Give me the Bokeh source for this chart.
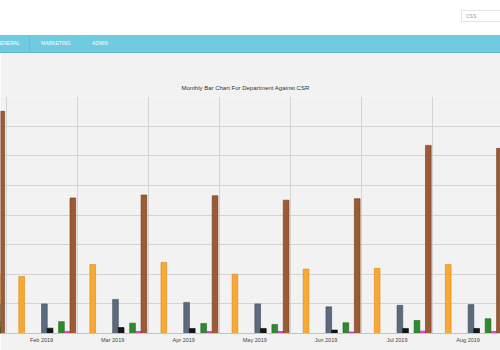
from bokeh.plotting import figure
from bokeh.layouts import column
from bokeh.models import (ColumnDataSource, Range1d, FixedTicker, Grid, Div)
from bokeh.transform import dodge
from bokeh.embed import file_html
from bokeh.resources import INLINE

# Monthly CSR counts per department
months = ["Jan 2019", "Feb 2019", "Mar 2019", "Apr 2019",
          "May 2019", "Jun 2019", "Jul 2019", "Aug 2019"]
departments = ["Corporate Services", "County Help Desk", "Court", "Development",
               "Field Rep Support", "Field Reps", "Hardware", "Marketing",
               "Municipal Help Desk", "Network Services", "Software Deployment",
               "Software Help Desk"]

corporate_services  = [0, 0, 0, 0, 0, 0, 0, 0]
county_help_desk    = [0, 0, 0, 0, 0, 0, 0, 0]
court               = [40, 38.5, 46.5, 48, 40, 43.5, 44, 46.5]
development         = [0, 0, 0, 0, 0, 0, 0, 0]
field_rep_support   = [0, 0, 0, 0, 0, 0, 0, 0]
field_reps          = [0, 0, 0, 0, 0, 0, 0, 0]
hardware            = [20, 20, 23, 21, 20, 18, 19, 19.5]
marketing           = [4, 3.6, 4, 3.4, 3.4, 2.3, 3.4, 3.4]
municipal_help_desk = [0, 0, 0, 0, 0, 0, 0, 0]
network_services    = [8, 8, 7, 6.8, 6, 7.2, 8.8, 10]
software_deployment = [1.5, 1.4, 1.3, 1.3, 1.3, 1, 1.6, 1.3]
software_help_desk  = [150, 91.5, 93.5, 93, 90, 91, 127, 125]

series = [corporate_services, county_help_desk, court, development,
          field_rep_support, field_reps, hardware, marketing,
          municipal_help_desk, network_services, software_deployment,
          software_help_desk]

colors = ["#8a8a8a", "#e3191c", "#f7a933", "#1a22d8", "#e2701a", "#b356d8",
          "#5b6b7c", "#161616", "#3a9fe6", "#2f8a2f", "#de3fd2", "#9d5b34"]
edges = ["#6a6a6a", "#b01010", "#d8871a", "#10189a", "#b8540c", "#8c38ae",
         "#3e4b59", "#000000", "#1f78b8", "#1d631d", "#b024a6", "#6f3a1c"]

FONT = "Liberation Sans"

data = {"idx": list(range(len(months)))}
for name, vals in zip(departments, series):
    data[name] = vals
source = ColumnDataSource(data)

p = figure(width=500, height=297, output_backend="svg", toolbar_location=None,
           x_range=Range1d(0.4226, 7.455), y_range=Range1d(0, 160),
           y_axis_location=None, min_border_left=0, min_border_right=0,
           min_border_top=43, min_border_bottom=17,
           background_fill_color="#f2f2f2", border_fill_color="#f2f2f2",
           outline_line_color=None,
           title="Monthly Bar Chart For Department Against CSR")

p.title.align = "left"
p.title.offset = 181
p.title.text_font = FONT
p.title.text_font_size = "6px"
p.title.text_font_style = "normal"
p.title.text_color = "#333333"
p.title.standoff = 11

slot = 0.08
for k, (name, col, edge) in enumerate(zip(departments, colors, edges)):
    p.vbar(x=dodge("idx", (k - 5.5) * slot), top=name, width=slot, bottom=0,
           source=source, fill_color=col, line_color=edge, line_width=0.6,
           legend_label=name)

# category separators and value gridlines
p.xgrid.ticker = FixedTicker(ticks=[i + 0.5 for i in range(-1, len(months) + 1)])
p.xgrid.grid_line_color = "#d4d4d4"
p.add_layout(Grid(dimension=1, ticker=FixedTicker(ticks=[20 * i for i in range(1, 9)]),
                  grid_line_color="#d4d4d4"))

ax = p.xaxis[0]
ax.ticker = FixedTicker(ticks=list(range(len(months))))
ax.major_label_overrides = {i: m for i, m in enumerate(months)}
ax.major_tick_in = 0
ax.major_tick_out = 0
ax.minor_tick_line_color = None
ax.major_label_standoff = 3
ax.axis_line_color = "#c4c4c4"
ax.major_label_text_font = FONT
ax.major_label_text_font_size = "5.5px"
ax.major_label_text_color = "#444444"

lg = p.legend[0]
lg.orientation = "horizontal"
lg.location = (-26, -18)
lg.background_fill_alpha = 0
lg.border_line_color = None
lg.padding = 0
lg.margin = 0
lg.spacing = 4
lg.glyph_width = 5
lg.glyph_height = 5
lg.label_height = 6
lg.label_standoff = 2
lg.label_text_font = FONT
lg.label_text_font_size = "5.5px"
lg.label_text_color = "#444444"

header_html = """
<div style="position:relative;width:500px;height:53px;background:#ffffff;overflow:hidden;font-family:'Liberation Sans',Arial,sans-serif;">
  <div style="position:absolute;left:461px;top:10px;width:45px;height:12px;border:1px solid #e3e3e3;box-sizing:border-box;font-size:5px;color:#9a9a9a;line-height:10px;padding-left:4px;">CSS</div>
  <div style="position:absolute;left:0;top:35px;width:500px;height:18px;background:#6ecbe0;border-bottom:1px solid #5db8cd;box-sizing:border-box;">
    <span style="position:absolute;left:-4px;top:0;line-height:17px;font-size:5px;color:#ffffff;">GENERAL</span>
    <div style="position:absolute;left:29px;top:0;width:1px;height:17px;background:#63bfd4;"></div>
    <span style="position:absolute;left:41px;top:0;line-height:17px;font-size:5px;color:#ffffff;">MARKETING</span>
    <span style="position:absolute;left:92px;top:0;line-height:17px;font-size:5px;color:#ffffff;">ADMIN</span>
  </div>
</div>
"""
header = Div(text=header_html, width=500, height=53, margin=0)

layout = column(header, p, spacing=0, margin=0)

open("out.html", "w").write(file_html(layout, INLINE))
